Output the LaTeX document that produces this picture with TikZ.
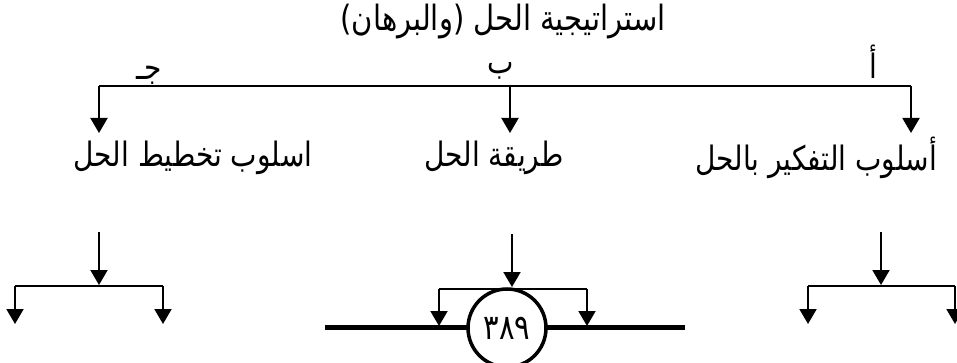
\documentclass[tikz,border=0pt]{standalone}
\usepackage{fontspec}
\usepackage{graphicx}
\usetikzlibrary{arrows.meta}
\TeXXeTstate=1
\newfontfamily\arabicfont[Script=Arabic]{DejaVu Sans}
\newcommand{\artxt}[1]{\scalebox{1}[1.2]{\beginR #1\endR}}
\begin{document}
\begin{tikzpicture}[x=1pt,y=-1pt,
  ln/.style={line width=2pt},
  arr/.style={ln,-{Triangle[width=17pt,length=15pt]}},
  txt/.style={font=\arabicfont\fontsize{28}{32}\selectfont, inner sep=0pt},
  ttl/.style={font=\arabicfont\fontsize{29}{33}\selectfont, inner sep=0pt},
  lbl/.style={font=\arabicfont\fontsize{28}{32}\selectfont, inner sep=0pt},
  thick line/.style={line width=5pt},
  numcircle/.style={circle, draw, line width=3.5pt, fill=white, minimum size=78pt, inner sep=0pt,
    font=\arabicfont\fontsize{29}{33}\selectfont}]
\useasboundingbox (0,0) rectangle (957,363);

% title
\node[ttl] (title) at (503,22) {\artxt{استراتيجية الحل (والبرهان)}};

% top branch
\coordinate (tl) at (99,86);
\coordinate (tm) at (510,86);
\coordinate (tr) at (911,86);
\coordinate (el) at (99,133);
\coordinate (em) at (510,133);
\coordinate (er) at (911,133);
\draw[ln] (tl) -- (tr);
\draw[arr] (tl) -- (el);
\draw[arr] (tm) -- (em);
\draw[arr] (tr) -- (er);

% branch labels
\node[lbl] (la) at (873,62) {\artxt{أ}};
\node[lbl] (lb) at (501,71) {\artxt{ب}};
\node[lbl] (lc) at (149,75) {\artxt{جـ}};

% second row
\node[txt] (s1) at (816,158) {\artxt{أسلوب التفكير بالحل}};
\node[txt] (s2) at (494,158) {\artxt{طريقة الحل}};
\node[txt] (s3) at (193,158) {\artxt{اسلوب تخطيط الحل}};

% left bottom group
\coordinate (l0) at (99,232);
\coordinate (l1) at (99,285);
\coordinate (la1) at (15,286);
\coordinate (lb1) at (163,286);
\coordinate (la2) at (15,324);
\coordinate (lb2) at (163,324);
\draw[arr] (l0) -- (l1);
\draw[ln] (la1) -- (lb1);
\draw[arr] (la1) -- (la2);
\draw[arr] (lb1) -- (lb2);

% right bottom group
\coordinate (r0) at (881,232);
\coordinate (r1) at (881,285);
\coordinate (ra1) at (808,286);
\coordinate (rb1) at (955,286);
\coordinate (ra2) at (808,324);
\coordinate (rb2) at (955,324);
\draw[arr] (r0) -- (r1);
\draw[ln] (ra1) -- (rb1);
\draw[arr] (ra1) -- (ra2);
\draw[arr] (rb1) -- (rb2);

% middle bottom group
\coordinate (hl) at (325,327);
\coordinate (hr) at (685,327);
\draw[thick line] (hl) -- (hr);
\node[numcircle] (num) at (507,328) {\scalebox{1}[1.2]{٣٨٩}};
\coordinate (m0) at (512,234);
\coordinate (m1) at (512,287);
\coordinate (ma1) at (439,289);
\coordinate (mb1) at (587,289);
\coordinate (ma2) at (439,326);
\coordinate (mb2) at (587,326);
\draw[ln] (ma1) -- (mb1);
\draw[arr] (m0) -- (m1);
\draw[arr] (ma1) -- (ma2);
\draw[arr] (mb1) -- (mb2);
\end{tikzpicture}
\end{document}
